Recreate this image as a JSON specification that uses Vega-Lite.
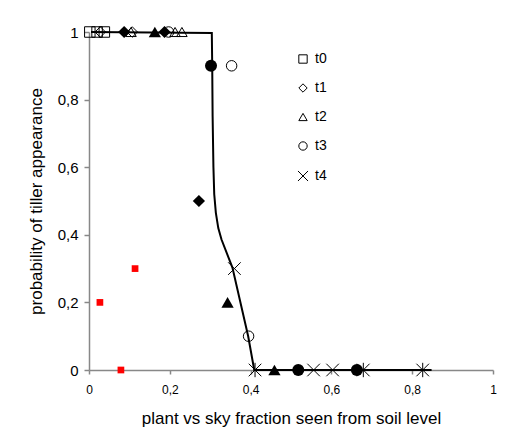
{
  "$schema": "https://vega.github.io/schema/vega-lite/v6.json",
  "autosize": "none",
  "width": 404,
  "height": 338,
  "padding": {"left": 89, "top": 32, "right": 13, "bottom": 64},
  "background": "white",
  "config": {
    "font": "Liberation Sans",
    "view": {"stroke": null},
    "axis": {"grid": false, "domainColor": "#888888", "domainWidth": 1.5, "tickColor": "#888888", "tickWidth": 1.5, "labelColor": "black", "titleColor": "black", "titleFontWeight": "normal", "titleFontSize": 17, "labelFont": "Liberation Sans", "titleFont": "Liberation Sans"},
    "legend": {"labelFont": "Liberation Sans"}
  },
  "datasets": {
    "curve": [
      {"x": 0.005, "y": 1},
      {"x": 0.304, "y": 0.997},
      {"x": 0.305, "y": 0.9},
      {"x": 0.306, "y": 0.75},
      {"x": 0.308, "y": 0.6},
      {"x": 0.310, "y": 0.52},
      {"x": 0.314, "y": 0.465},
      {"x": 0.320, "y": 0.42},
      {"x": 0.328, "y": 0.386},
      {"x": 0.355, "y": 0.303},
      {"x": 0.394, "y": 0.1},
      {"x": 0.409, "y": 0},
      {"x": 0.848, "y": 0}
    ],
    "pts": [
      {"x": 0.002, "y": 1, "s": "t0"},
      {"x": 0.020, "y": 1, "s": "t0"},
      {"x": 0.038, "y": 1, "s": "t0"},
      {"x": 0.028, "y": 1, "s": "t1"},
      {"x": 0.107, "y": 1, "s": "t1"},
      {"x": 0.104, "y": 1, "s": "t2"},
      {"x": 0.213, "y": 1, "s": "t2"},
      {"x": 0.230, "y": 1, "s": "t2"},
      {"x": 0.197, "y": 1, "s": "t3"},
      {"x": 0.353, "y": 0.9, "s": "t3"},
      {"x": 0.395, "y": 0.1, "s": "t3"},
      {"x": 0.360, "y": 0.3, "s": "t4"},
      {"x": 0.411, "y": 0, "s": "t4"},
      {"x": 0.556, "y": 0, "s": "t4"},
      {"x": 0.603, "y": 0, "s": "t4"},
      {"x": 0.679, "y": 0, "s": "t4"},
      {"x": 0.826, "y": 0, "s": "t4"},
      {"x": 0.087, "y": 1, "s": "f1"},
      {"x": 0.187, "y": 1, "s": "f1"},
      {"x": 0.272, "y": 0.5, "s": "f1"},
      {"x": 0.163, "y": 1, "s": "f2"},
      {"x": 0.343, "y": 0.2, "s": "f2"},
      {"x": 0.459, "y": 0, "s": "f2"},
      {"x": 0.302, "y": 0.9, "s": "f3"},
      {"x": 0.518, "y": 0, "s": "f3"},
      {"x": 0.663, "y": 0, "s": "f3"},
      {"x": 0.411, "y": 0, "s": "f4"},
      {"x": 0.679, "y": 0, "s": "f4"},
      {"x": 0.826, "y": 0, "s": "f4"},
      {"x": 0.027, "y": 0.2, "s": "f0"},
      {"x": 0.079, "y": 0, "s": "f0"},
      {"x": 0.114, "y": 0.3, "s": "f0"}
    ]
  },
  "encoding": {
    "x": {
      "field": "x", "type": "quantitative",
      "scale": {"domain": [0, 1], "nice": false, "zero": false},
      "axis": {
        "title": "plant vs sky fraction seen from soil level",
        "values": [0, 0.2, 0.4, 0.6, 0.8, 1],
        "labelExpr": "datum.value == 0 ? '0' : datum.value == 1 ? '1' : replace(format(datum.value, '.1f'), '.', ',')",
        "labelFontSize": 12, "tickSize": 4, "labelPadding": 10, "titlePadding": 15, "labelFlush": false
      }
    },
    "y": {
      "field": "y", "type": "quantitative",
      "scale": {"domain": [0, 1], "nice": false, "zero": false},
      "axis": {
        "title": "probability of tiller appearance",
        "values": [0, 0.2, 0.4, 0.6, 0.8, 1],
        "labelExpr": "datum.value == 0 ? '0' : datum.value == 1 ? '1' : replace(format(datum.value, '.1f'), '.', ',')",
        "labelFontSize": 15, "tickSize": 5, "labelPadding": 6, "titlePadding": 12, "labelFlush": false
      }
    }
  },
  "layer": [
    {
      "data": {"name": "curve"},
      "mark": {"type": "line", "color": "black", "strokeWidth": 2}
    },
    {
      "data": {"name": "pts"},
      "transform": [{"filter": "indexof(['t0','t1','t2','t3','t4'], datum.s) >= 0"}],
      "mark": {"type": "point", "filled": false, "stroke": "black", "strokeWidth": 1, "opacity": 1, "size": 110},
      "encoding": {
        "shape": {
          "field": "s", "type": "nominal",
          "scale": {"domain": ["t0", "t1", "t2", "t3", "t4"], "range": ["square", "diamond", "triangle-up", "circle", "M-1.2,-1.2L1.2,1.2M-1.2,1.2L1.2,-1.2"]},
          "legend": {
            "title": null, "orient": "none", "legendX": 207, "legendY": 20,
            "padding": 0, "rowPadding": 15, "labelFontSize": 14, "labelOffset": 5,
            "symbolSize": 70, "symbolStrokeColor": "black", "symbolStrokeWidth": 1, "symbolFillColor": "white", "labelColor": "black"
          }
        }
      }
    },
    {
      "data": {"name": "pts"},
      "transform": [{"filter": "datum.s == 'f1'"}],
      "mark": {"type": "point", "shape": "diamond", "filled": true, "color": "black", "opacity": 1, "size": 150}
    },
    {
      "data": {"name": "pts"},
      "transform": [{"filter": "datum.s == 'f2'"}],
      "mark": {"type": "point", "shape": "triangle-up", "filled": true, "color": "black", "opacity": 1, "size": 150}
    },
    {
      "data": {"name": "pts"},
      "transform": [{"filter": "datum.s == 'f3'"}],
      "mark": {"type": "point", "shape": "circle", "filled": true, "color": "black", "opacity": 1, "size": 144}
    },
    {
      "data": {"name": "pts"},
      "transform": [{"filter": "datum.s == 'f4'"}],
      "mark": {"type": "point", "shape": "M0,-1.2L0,1.2", "filled": false, "color": "black", "strokeWidth": 1, "opacity": 1, "size": 144}
    },
    {
      "data": {"name": "pts"},
      "transform": [{"filter": "datum.s == 'f0'"}],
      "mark": {"type": "point", "shape": "square", "filled": true, "color": "red", "opacity": 1, "size": 45}
    }
  ]
}
